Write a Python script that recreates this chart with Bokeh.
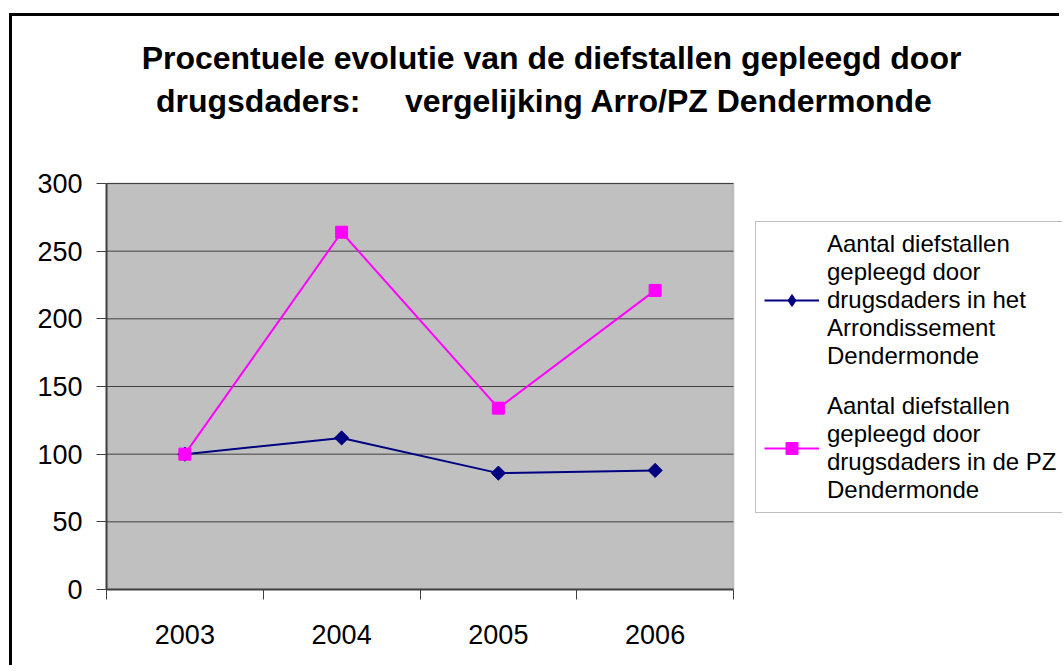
from bokeh.plotting import figure
from bokeh.models import (Legend, LegendItem, Label, BoxAnnotation, FixedTicker,
                          Range1d, ColumnDataSource)
from bokeh.embed import file_html
from bokeh.resources import INLINE
import math

# ---- data ----
years = ["2003", "2004", "2005", "2006"]
arro = [100, 112, 86, 88]
pz = [100, 264, 134, 221]
y_ticks = [0, 50, 100, 150, 200, 250, 300]
title_line1 = "Procentuele evolutie van de diefstallen gepleegd door"
title_line2 = "drugsdaders:" + "\u00a0" * 5 + "vergelijking Arro/PZ Dendermonde"
label_arro = "Aantal diefstallen\ngepleegd door\ndrugsdaders in het\nArrondissement\nDendermonde"
label_pz = "Aantal diefstallen\ngepleegd door\ndrugsdaders in de PZ\nDendermonde"

FONT = "Liberation Sans"

# ---- layout constants (pixels) ----
W, H = 1050, 652            # canvas
LEFT, BOTTOM = 94, 79       # axis panels
PLOT_W, PLOT_H = 627, 406   # grey plotting area
FRAME_W, FRAME_H = W - LEFT, H - BOTTOM

n = len(years)
xs = [i + 0.5 for i in range(n)]
src = ColumnDataSource(dict(x=xs, arro=arro, pz=pz))
grid_src = ColumnDataSource(dict(y=y_ticks, x0=[0] * len(y_ticks), x1=[n] * len(y_ticks)))

p = figure(width=W, height=H, title=None,
           x_range=Range1d(0, n * FRAME_W / PLOT_W),
           y_range=Range1d(y_ticks[0], y_ticks[-1] * FRAME_H / PLOT_H),
           output_backend="svg", toolbar_location=None,
           min_border_left=LEFT, min_border_right=0,
           min_border_top=0, min_border_bottom=BOTTOM)
p.styles = {"margin-left": "9px", "margin-top": "13px",
            "border-left": "3px solid black", "border-top": "3px solid black"}

p.background_fill_color = "white"
p.border_fill_color = "white"
p.outline_line_color = None
p.grid.visible = False

# grey plotting area
p.add_layout(BoxAnnotation(left=0, right=n, bottom=y_ticks[0], top=y_ticks[-1],
                           fill_color="#C0C0C0", fill_alpha=1.0,
                           line_color="#808080", line_width=2, level="underlay"))

# horizontal gridlines
p.segment(x0="x0", x1="x1", y0="y", y1="y", source=grid_src,
          line_color="#404040", line_width=1)

# x axis: labels at category centers, ticks at boundaries
xa = p.xaxis[0]
xa.bounds = (0, n)
xa.ticker = FixedTicker(ticks=xs, minor_ticks=list(range(n + 1)))
xa.major_label_overrides = {x: y for x, y in zip(xs, years)}
xa.major_tick_in = 0
xa.major_tick_out = 0
xa.minor_tick_in = 0
xa.minor_tick_out = 10
xa.minor_tick_line_color = "#404040"
xa.axis_line_color = "#404040"
xa.axis_line_width = 2
xa.major_label_text_font = FONT
xa.major_label_text_font_size = "27px"
xa.major_label_text_color = "black"
xa.major_label_standoff = 25

ya = p.yaxis[0]
ya.bounds = (y_ticks[0], y_ticks[-1])
ya.ticker = FixedTicker(ticks=y_ticks)
ya.major_tick_in = 0
ya.major_tick_out = 10
ya.minor_tick_line_color = None
ya.major_tick_line_color = "#404040"
ya.axis_line_color = "#404040"
ya.axis_line_width = 2
ya.major_label_text_font = FONT
ya.major_label_text_font_size = "27px"
ya.major_label_text_color = "black"
ya.major_label_standoff = 14

# series
l1 = p.line("x", "arro", source=src, line_color="#000080", line_width=2)
m1 = p.scatter("x", "arro", source=src, marker="square", size=10, angle=math.pi / 4,
               fill_color="#000080", line_color="#000080")
l2 = p.line("x", "pz", source=src, line_color="#FF00FF", line_width=2)
m2 = p.scatter("x", "pz", source=src, marker="square", size=12,
               fill_color="#FF00FF", line_color="#FF00FF")
# legend key only (diamond shape as in the legend); it has no plottable point
k1 = p.scatter(x=[math.nan], y=[math.nan], marker="diamond",
               fill_color="#000080", line_color="#000080")

legend = Legend(items=[LegendItem(label=label_arro, renderers=[l1, k1]),
                       LegendItem(label=label_pz, renderers=[l2, m2])],
                location=(PLOT_W + 22, 76),
                glyph_width=55, glyph_height=30, label_standoff=8,
                padding=8, spacing=22, margin=0,
                label_text_font=FONT, label_text_font_size="24px",
                label_text_color="black", label_width=240,
                border_line_color="#808080", border_line_width=1,
                background_fill_color="white", background_fill_alpha=1.0)
p.add_layout(legend, "center")

# title (two centred lines)
for txt, cx, base in ((title_line1, 445, 532), (title_line2, 438, 489)):
    p.add_layout(Label(x=cx, y=base, x_units="screen", y_units="screen", text=txt,
                       text_align="center", text_baseline="alphabetic",
                       text_font=FONT, text_font_size="32px", text_font_style="bold",
                       text_color="black"))

open("out.html", "w").write(file_html(p, INLINE))
